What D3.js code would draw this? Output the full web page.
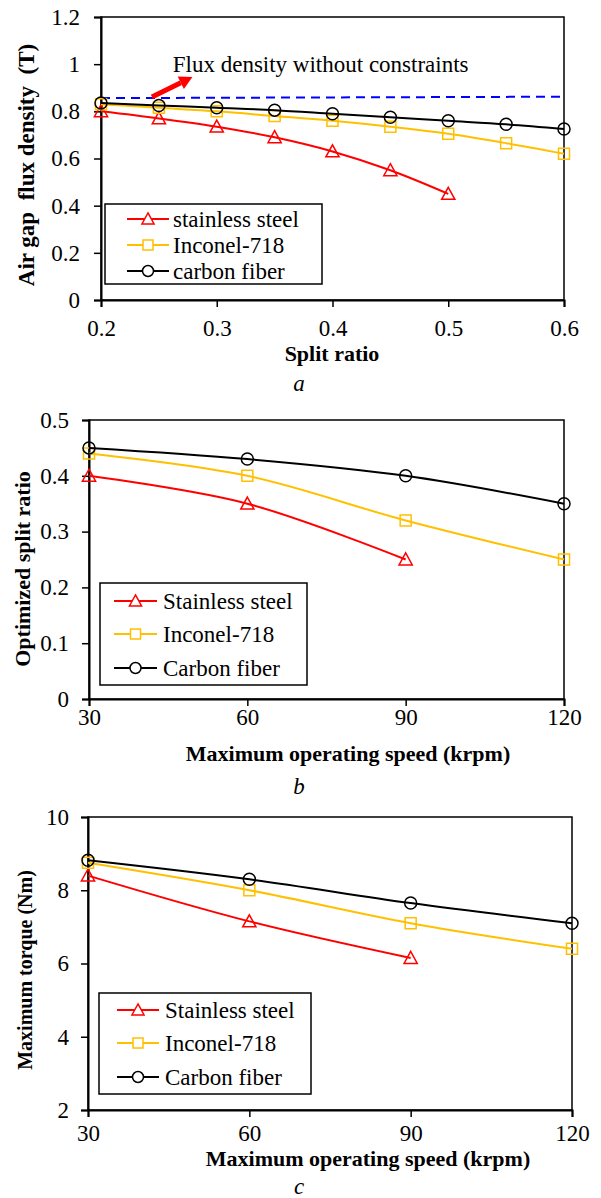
<!DOCTYPE html>
<html><head><meta charset="utf-8">
<script src="https://cdn.jsdelivr.net/npm/d3@7"></script>
<style>
body{margin:0;background:#fff}
text{font-family:"Times New Roman","Liberation Serif",Tinos,serif;fill:#000}
</style>
</head><body>
<svg id="chart" width="601" height="1198"></svg>
<script>
// ---------- DATA ----------
const splitRatio = [0.2, 0.25, 0.3, 0.35, 0.4, 0.45, 0.5, 0.55, 0.6];
const fluxStainless = [0.80, 0.77, 0.735, 0.69, 0.63, 0.55, 0.45];
const fluxInconel = [0.83, 0.815, 0.80, 0.78, 0.76, 0.735, 0.705, 0.665, 0.62];
const fluxCarbon = [0.835, 0.825, 0.815, 0.805, 0.79, 0.775, 0.76, 0.745, 0.725];
const fluxNoConstraintX = [0.2, 0.6];
const fluxNoConstraint = [0.856, 0.862];
const fluxTicks = [0, 0.2, 0.4, 0.6, 0.8, 1.0, 1.2];
const ratioTicks = [0.2, 0.3, 0.4, 0.5, 0.6];

const speeds = [30, 60, 90, 120];
const optStainless = [0.40, 0.35, 0.25];
const optInconel = [0.44, 0.40, 0.32, 0.25];
const optCarbon = [0.45, 0.43, 0.40, 0.35];
const optTicks = [0, 0.1, 0.2, 0.3, 0.4, 0.5];

const torqueStainless = [8.4, 7.15, 6.15];
const torqueInconel = [8.75, 8.0, 7.1, 6.4];
const torqueCarbon = [8.82, 8.3, 7.65, 7.1];
const torqueTicks = [2, 4, 6, 8, 10];
const speedTicks = [30, 60, 90, 120];

const namesA = ["stainless steel", "Inconel-718", "carbon fiber"];
const namesBC = ["Stainless steel", "Inconel-718", "Carbon fiber"];

// ---------- STYLE ----------
const RED = "#FF0000", YEL = "#FFC000", BLK = "#000000", BLUE = "#0000FF";
const FONT = '"Times New Roman","Liberation Serif",Tinos,serif';
const FS = 23;
const svg = d3.select("#chart");

function markerPath(type, s) {
  if (type === "tri") return `M0,${-s*0.55}L${s*0.55},${s*0.45}L${-s*0.55},${s*0.45}Z`;
  if (type === "sq") return `M${-s/2},${-s/2}h${s}v${s}h${-s}Z`;
  const r = s / 2;
  return `M${r},0A${r},${r} 0 1,1 ${-r},0A${r},${r} 0 1,1 ${r},0Z`;
}

function panel(cfg) {
  const g = svg.append("g");
  const x = d3.scaleLinear().domain(cfg.xDomain).range([cfg.left, cfg.right]);
  const y = d3.scaleLinear().domain(cfg.yDomain).range([cfg.bottom, cfg.top]);

  g.append("rect").attr("x", cfg.left).attr("y", cfg.top)
    .attr("width", cfg.right - cfg.left).attr("height", cfg.bottom - cfg.top)
    .attr("fill", "none").attr("stroke", "#000").attr("stroke-width", 1.5);

  const xAxis = d3.axisBottom(x).tickValues(cfg.xTicks).tickSize(7).tickFormat(cfg.xFmt);
  const xa = g.append("g").attr("transform", `translate(0,${cfg.bottom})`).call(xAxis)
    .attr("font-family", FONT);
  xa.select(".domain").attr("stroke-width", 2);
  xa.selectAll(".tick line").attr("stroke-width", 1.5);
  xa.selectAll(".tick text").attr("font-size", FS).attr("font-family", FONT)
    .attr("dy", null).attr("y", cfg.xLabelDy);

  const yAxis = d3.axisLeft(y).tickValues(cfg.yTicks).tickSize(7).tickFormat(cfg.yFmt);
  const ya = g.append("g").attr("transform", `translate(${cfg.left},0)`).call(yAxis)
    .attr("font-family", FONT);
  ya.select(".domain").attr("stroke-width", 2);
  ya.selectAll(".tick line").attr("stroke-width", 1.5);
  ya.selectAll(".tick text").attr("font-size", FS).attr("font-family", FONT)
    .attr("x", -cfg.yLabelGap);

  if (cfg.extra) cfg.extra(g, x, y);

  cfg.series.forEach(s => {
    const pts = s.xs.map((xv, i) => [x(xv), y(s.ys[i])]);
    g.append("path").attr("d", d3.line().curve(d3.curveCatmullRom.alpha(0.5))(pts))
      .attr("fill", "none").attr("stroke", s.color).attr("stroke-width", 2);
    g.selectAll(null).data(pts).enter().append("path")
      .attr("d", markerPath(s.marker, s.msize))
      .attr("transform", d => `translate(${d[0]},${d[1]})`)
      .attr("fill", "none").attr("stroke", s.color).attr("stroke-width", 1.5);
  });

  const L = cfg.legend;
  g.append("rect").attr("x", L.x0).attr("y", L.y0).attr("width", L.x1 - L.x0).attr("height", L.y1 - L.y0)
    .attr("fill", "#fff").attr("stroke", "#000").attr("stroke-width", 1.5);
  cfg.series.forEach((s, i) => {
    const yy = L.rows[i];
    g.append("line").attr("x1", L.lx0).attr("x2", L.lx1).attr("y1", yy).attr("y2", yy)
      .attr("stroke", s.color).attr("stroke-width", 2);
    g.append("path").attr("d", markerPath(s.marker, s.msize - 1))
      .attr("transform", `translate(${(L.lx0 + L.lx1) / 2},${yy})`)
      .attr("fill", "#fff").attr("stroke", s.color).attr("stroke-width", 1.5);
    g.append("text").attr("x", L.tx).attr("y", yy).attr("dy", "0.35em")
      .attr("font-family", FONT).attr("font-size", FS).text(s.name);
  });

  g.append("text").attr("x", cfg.xTitle[0]).attr("y", cfg.xTitle[1]).attr("text-anchor", "middle")
    .attr("font-family", FONT).attr("font-size", 22).attr("font-weight", "bold").text(cfg.xTitleText);
  g.append("text").attr("transform", `translate(${cfg.yTitle[0]},${cfg.yTitle[1]}) rotate(-90)`)
    .attr("text-anchor", "middle").attr("dy", "0.35em").style("white-space", "pre")
    .attr("font-family", FONT).attr("font-size", cfg.yTitleSize).attr("font-weight", "bold").text(cfg.yTitleText);
  g.append("text").attr("x", cfg.sub[0]).attr("y", cfg.sub[1]).attr("text-anchor", "middle")
    .attr("font-family", FONT).attr("font-size", FS).attr("font-style", "italic").text(cfg.subText);
}

const fmtA = d => d === 0 ? "0" : (d === 1 ? "1" : d3.format(".1f")(d));

// Panel a
panel({
  left: 101, right: 564, top: 17, bottom: 300,
  xDomain: [0.2, 0.6], yDomain: [0, 1.2],
  xTicks: ratioTicks, yTicks: fluxTicks, xFmt: d3.format(".1f"), yFmt: fmtA,
  xLabelDy: 36, yLabelGap: 21,
  series: [
    {name: namesA[0], xs: splitRatio.slice(0, fluxStainless.length), ys: fluxStainless, color: RED, marker: "tri", msize: 12},
    {name: namesA[1], xs: splitRatio, ys: fluxInconel, color: YEL, marker: "sq", msize: 11},
    {name: namesA[2], xs: splitRatio, ys: fluxCarbon, color: BLK, marker: "circ", msize: 12}
  ],
  extra: (g, x, y) => {
    g.append("line").attr("x1", x(fluxNoConstraintX[0])).attr("x2", x(fluxNoConstraintX[1]) - 3)
      .attr("y1", y(fluxNoConstraint[0])).attr("y2", y(fluxNoConstraint[1]))
      .attr("stroke", BLUE).attr("stroke-width", 2).attr("stroke-dasharray", "9,6");
    const x0 = x(0.244), y0 = y(0.861), x1 = x(0.279), y1 = y(0.946);
    const ang = Math.atan2(y1 - y0, x1 - x0), hl = 13, hw = 7;
    const bx = x1 - hl * Math.cos(ang), by = y1 - hl * Math.sin(ang);
    g.append("line").attr("x1", x0).attr("y1", y0).attr("x2", bx).attr("y2", by)
      .attr("stroke", RED).attr("stroke-width", 5);
    g.append("path").attr("d", `M${x1},${y1}L${bx + hw * Math.sin(ang)},${by - hw * Math.cos(ang)}L${bx - hw * Math.sin(ang)},${by + hw * Math.cos(ang)}Z`)
      .attr("fill", RED);
    g.append("text").attr("x", x(0.262)).attr("y", y(0.967)).attr("font-family", FONT).attr("font-size", FS)
      .text("Flux density without constraints");
  },
  legend: {x0: 105, x1: 322, y0: 204, y1: 284, rows: [219, 245, 271], lx0: 127, lx1: 169, tx: 173},
  xTitle: [332, 361], xTitleText: "Split ratio",
  yTitle: [26, 165], yTitleText: "Air gap  flux density  (T)", yTitleSize: 23,
  sub: [299, 391], subText: "a"
});

// Panel b
panel({
  left: 89, right: 564, top: 420, bottom: 699,
  xDomain: [30, 120], yDomain: [0, 0.5],
  xTicks: speedTicks, yTicks: optTicks, xFmt: d3.format("d"), yFmt: d => d === 0 ? "0" : d3.format(".1f")(d),
  xLabelDy: 26, yLabelGap: 20,
  series: [
    {name: namesBC[0], xs: speeds.slice(0, optStainless.length), ys: optStainless, color: RED, marker: "tri", msize: 12},
    {name: namesBC[1], xs: speeds, ys: optInconel, color: YEL, marker: "sq", msize: 11},
    {name: namesBC[2], xs: speeds, ys: optCarbon, color: BLK, marker: "circ", msize: 12}
  ],
  legend: {x0: 100, x1: 307, y0: 583, y1: 685, rows: [601, 634, 668], lx0: 114, lx1: 157, tx: 163},
  xTitle: [348, 761], xTitleText: "Maximum operating speed (krpm)",
  yTitle: [22, 569], yTitleText: "Optimized split ratio", yTitleSize: 22,
  sub: [299, 794], subText: "b"
});

// Panel c
panel({
  left: 88, right: 572, top: 817, bottom: 1110,
  xDomain: [30, 120], yDomain: [2, 10],
  xTicks: speedTicks, yTicks: torqueTicks, xFmt: d3.format("d"), yFmt: d3.format("d"),
  xLabelDy: 31, yLabelGap: 19,
  series: [
    {name: namesBC[0], xs: speeds.slice(0, torqueStainless.length), ys: torqueStainless, color: RED, marker: "tri", msize: 12},
    {name: namesBC[1], xs: speeds, ys: torqueInconel, color: YEL, marker: "sq", msize: 11},
    {name: namesBC[2], xs: speeds, ys: torqueCarbon, color: BLK, marker: "circ", msize: 12}
  ],
  legend: {x0: 99, x1: 311, y0: 993, y1: 1094, rows: [1010, 1043, 1077], lx0: 117, lx1: 159, tx: 165},
  xTitle: [368, 1166], xTitleText: "Maximum operating speed (krpm)",
  yTitle: [25, 970], yTitleText: "Maximum torque (Nm)", yTitleSize: 20,
  sub: [299, 1194], subText: "c"
});
</script>
</body></html>
